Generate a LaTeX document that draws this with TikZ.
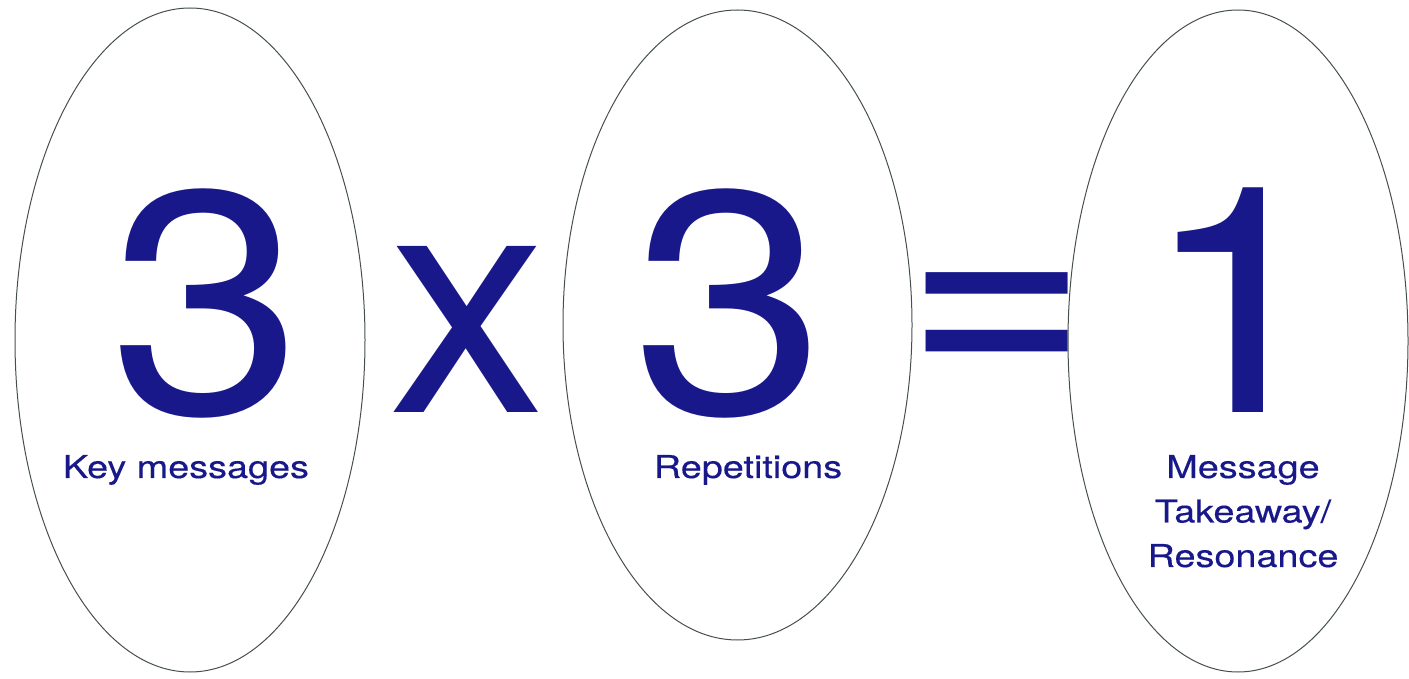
\documentclass[tikz,border=0pt]{standalone}
\usepackage{fontspec}
\setmainfont{TeX Gyre Heros}
\newfontfamily\bignumfont[FakeStretch=1.1]{TeX Gyre Heros}
\newfontfamily\ovallabelfont[FakeStretch=1.2,FakeBold=0.3]{TeX Gyre Heros}
\usetikzlibrary{shapes.geometric}

\definecolor{navyink}{RGB}{24,24,138}
\definecolor{ovalline}{RGB}{70,80,75}

\begin{document}
\begin{tikzpicture}[
  x=1pt, y=1pt,
  every node/.style={text=navyink},
  oval/.style={
    ellipse,
    draw=ovalline,
    line width=1pt,
    inner sep=0pt
  },
  bignum/.style={
    anchor=base,
    inner sep=0pt,
    text depth=0pt,
    font=\bignumfont\fontsize{317}{317}\selectfont
  },
  bigsign/.style={
    anchor=base,
    inner sep=0pt,
    text depth=0pt,
    font=\fontsize{317}{317}\selectfont
  },
  ovallabel/.style={
    anchor=base,
    inner sep=0pt,
    align=center,
    font=\ovallabelfont\fontsize{31.5}{44.5}\selectfont
  }
]
\useasboundingbox (0,0) rectangle (1409,678);

% the three ovals
\node[oval, minimum width=350pt, minimum height=664pt] (keyoval) at (190,338) {};
\node[oval, minimum width=349pt, minimum height=630pt] (repoval) at (737.5,353) {};
\node[oval, minimum width=340pt, minimum height=662pt] (resoval) at (1238,337) {};

% the sum
\node[bignum] (keynum) at (206,264) {3};
\node[bigsign] (timessign) at (468,265) {x};
\node[bignum] (repnum) at (729,264) {3};
\node[bigsign] (equalsign) at (997,286) {=};
\node[bignum] (resnum) at (1239,265) {1};

% what each number stands for
\node[ovallabel] (keylabel) at (186,200) {Key messages};
\node[ovallabel] (replabel) at (748,200) {Repetitions};
\node[ovallabel] (reslabel) at (1243,111) {Message\\Takeaway/\\Resonance};
\end{tikzpicture}
\end{document}
